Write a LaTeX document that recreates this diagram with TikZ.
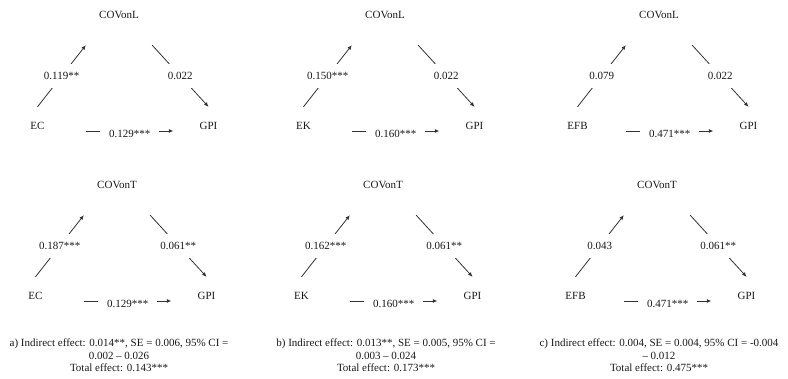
\documentclass[tikz,border=0pt]{standalone}
\usepackage{fontspec}
\setmainfont{Liberation Serif}
\usetikzlibrary{arrows.meta}

\begin{document}
\begin{tikzpicture}[
    x=1pt, y=-1pt,
    every node/.style={font=\fontsize{11}{12.5}\selectfont, text=black!90},
    medvar/.style={rectangle, minimum width=66pt, minimum height=60pt, inner sep=0pt},
    xvar/.style={rectangle, minimum width=97pt, minimum height=38pt, inner sep=0pt},
    yvar/.style={rectangle, minimum width=70pt, minimum height=38pt, inner sep=0pt},
    arrow/.style={-{Latex[length=4.5pt, width=4pt]}, line width=0.8pt, draw=black!80},
    coef/.style={fill=white, inner sep=8.7pt},
    capt/.style={align=center}
]
\useasboundingbox (0,0) rectangle (788,378);

% ================= PANEL A (EC) =================
\node[medvar] (covl_a) at (119,15) {COVonL};
\node[xvar] (ec_a) at (37.5,126) {EC};
\node[yvar] (gpi_a) at (208.5,126) {GPI};

\draw[arrow] (ec_a.north) -- node[coef] {0.119**} (covl_a.south west);
\draw[arrow] (covl_a.south east) -- node[coef] {0.022} (gpi_a.north);
\draw[arrow] ([yshift=-5pt]ec_a.east) -- node[coef, yshift=-3pt] {0.129***} ([yshift=-5pt]gpi_a.west);

\node[medvar] (covt_a) at (117,185) {COVonT};
\node[xvar] (ec_a2) at (35.5,296) {EC};
\node[yvar] (gpi_a2) at (206.5,296) {GPI};

\draw[arrow] (ec_a2.north) -- node[coef] {0.187***} (covt_a.south west);
\draw[arrow] (covt_a.south east) -- node[coef] {0.061**} (gpi_a2.north);
\draw[arrow] ([yshift=-5pt]ec_a2.east) -- node[coef, yshift=-3pt] {0.129***} ([yshift=-5pt]gpi_a2.west);

\node[capt] (cap_a) at (119,355.5) {a) Indirect effect: 0.014**, SE = 0.006, 95\% CI =\\0.002 \textendash{} 0.026\\Total effect: 0.143***};

% ================= PANEL B (EK) =================
\node[medvar] (covl_b) at (385,15) {COVonL};
\node[xvar] (ek_b) at (303.5,126) {EK};
\node[yvar] (gpi_b) at (474.5,126) {GPI};

\draw[arrow] (ek_b.north) -- node[coef] {0.150***} (covl_b.south west);
\draw[arrow] (covl_b.south east) -- node[coef] {0.022} (gpi_b.north);
\draw[arrow] ([yshift=-5pt]ek_b.east) -- node[coef, yshift=-3pt] {0.160***} ([yshift=-5pt]gpi_b.west);

\node[medvar] (covt_b) at (383,185) {COVonT};
\node[xvar] (ek_b2) at (301.5,296) {EK};
\node[yvar] (gpi_b2) at (472.5,296) {GPI};

\draw[arrow] (ek_b2.north) -- node[coef] {0.162***} (covt_b.south west);
\draw[arrow] (covt_b.south east) -- node[coef] {0.061**} (gpi_b2.north);
\draw[arrow] ([yshift=-5pt]ek_b2.east) -- node[coef, yshift=-3pt] {0.160***} ([yshift=-5pt]gpi_b2.west);

\node[capt] (cap_b) at (386,355.5) {b) Indirect effect: 0.013**, SE = 0.005, 95\% CI =\\0.003 \textendash{} 0.024\\Total effect: 0.173***};

% ================= PANEL C (EFB) =================
\node[medvar] (covl_c) at (659,15) {COVonL};
\node[xvar] (efb_c) at (577.5,126) {EFB};
\node[yvar] (gpi_c) at (748.5,126) {GPI};

\draw[arrow] (efb_c.north) -- node[coef] {0.079} (covl_c.south west);
\draw[arrow] (covl_c.south east) -- node[coef] {0.022} (gpi_c.north);
\draw[arrow] ([yshift=-5pt]efb_c.east) -- node[coef, yshift=-3pt] {0.471***} ([yshift=-5pt]gpi_c.west);

\node[medvar] (covt_c) at (657,185) {COVonT};
\node[xvar] (efb_c2) at (575.5,296) {EFB};
\node[yvar] (gpi_c2) at (746.5,296) {GPI};

\draw[arrow] (efb_c2.north) -- node[coef] {0.043} (covt_c.south west);
\draw[arrow] (covt_c.south east) -- node[coef] {0.061**} (gpi_c2.north);
\draw[arrow] ([yshift=-5pt]efb_c2.east) -- node[coef, yshift=-3pt] {0.471***} ([yshift=-5pt]gpi_c2.west);

\node[capt] (cap_c) at (659,355.5) {c) Indirect effect: 0.004, SE = 0.004, 95\% CI = -0.004\\\textendash{} 0.012\\Total effect: 0.475***};

\end{tikzpicture}
\end{document}
